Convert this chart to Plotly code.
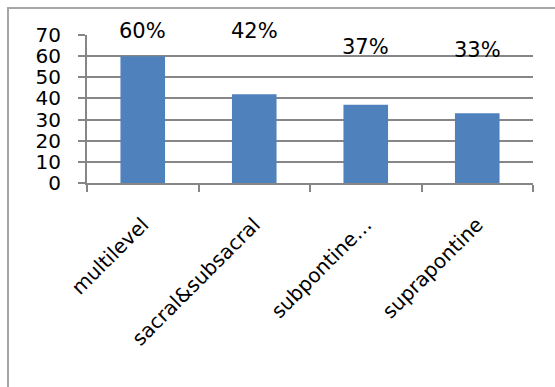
import plotly.graph_objects as go

# Chart data
categories = ["multilevel", "sacral&subsacral", "subpontine…", "suprapontine"]
values = [60, 42, 37, 33]
y_ticks = [0, 10, 20, 30, 40, 50, 60, 70]
y_max = 70

# Heights (in axis units) at which the percentage labels sit
label_heights = [72, 72, 64.5, 63]

W, H = 555, 387
ml, mr, mt, mb = 87, 22, 35, 204
pw, ph = W - ml - mr, H - mt - mb

fig = go.Figure()
fig.add_trace(go.Bar(
    x=categories, y=values,
    marker=dict(color="#4F81BD", line=dict(width=0)),
    hoverinfo="skip",
))

for cat, v, h in zip(categories, values, label_heights):
    fig.add_annotation(
        x=cat, y=h / y_max, text=f"{v}%", showarrow=False,
        xref="x", yref="paper", yanchor="middle",
        font=dict(family="DejaVu Sans", size=21, color="#000000"),
    )

# Outer chart frame, running off the right and bottom edges
def px_x(p):
    return (p - ml) / pw

def px_y(p):
    return (H - mb - p) / ph

fig.add_shape(
    type="rect", xref="paper", yref="paper",
    x0=px_x(8), x1=px_x(565), y0=px_y(400), y1=px_y(8),
    line=dict(color="#A6A6A6", width=2), fillcolor="rgba(0,0,0,0)", layer="below",
)

fig.update_layout(
    width=W, height=H,
    margin=dict(l=ml, r=mr, t=mt, b=mb, pad=0),
    paper_bgcolor="white", plot_bgcolor="white",
    bargap=0.6, showlegend=False,
    font=dict(family="DejaVu Sans", color="#000000"),
)
fig.update_xaxes(
    type="category", tickangle=-45, tickson="boundaries",
    ticks="outside", ticklen=7, tickcolor="#868686", tickwidth=2,
    showline=True, linecolor="#868686", linewidth=2,
    showgrid=False, ticklabelstandoff=20,
    tickfont=dict(family="DejaVu Sans", size=20, color="#000000"),
)
fig.update_yaxes(
    range=[0, y_max], tickvals=y_ticks,
    ticks="outside", ticklen=7, tickcolor="#868686", tickwidth=2,
    showline=True, linecolor="#868686", linewidth=2,
    showgrid=True, gridcolor="#868686", gridwidth=2,
    zeroline=False, ticklabelstandoff=13,
    tickfont=dict(family="DejaVu Sans", size=20, color="#000000"),
)

fig.write_html("out.html")
